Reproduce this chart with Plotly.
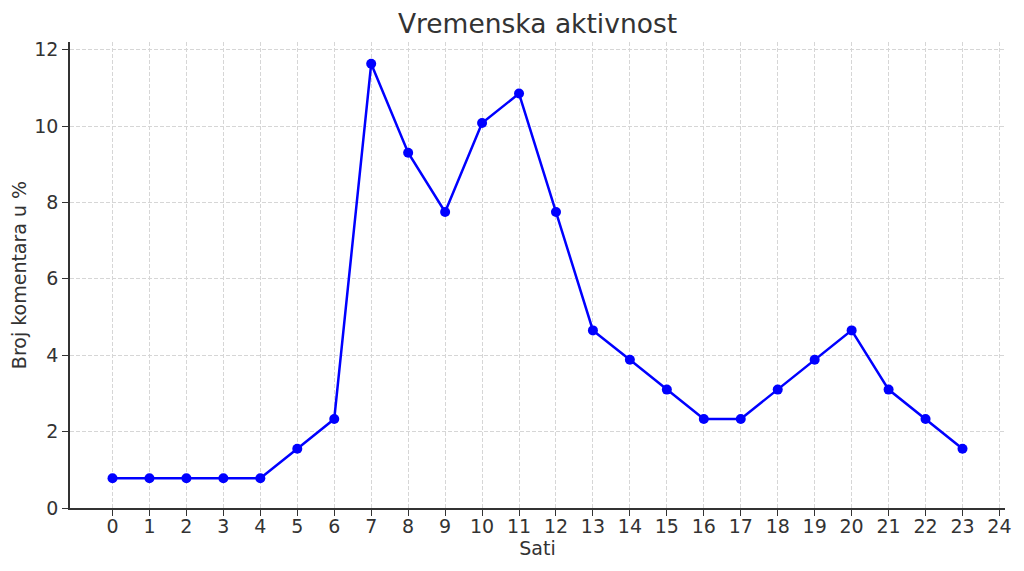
import plotly.graph_objects as go

hours = list(range(24))
percent = [0.78, 0.78, 0.78, 0.78, 0.78, 1.55, 2.33, 11.63, 9.30, 7.75, 10.08, 10.85,
           7.75, 4.65, 3.88, 3.10, 2.33, 2.33, 3.10, 3.88, 4.65, 3.10, 2.33, 1.55]
x_ticks = list(range(25))
y_ticks = [0, 2, 4, 6, 8, 10, 12]

title = "Vremenska aktivnost"
x_title = "Sati"
y_title = "Broj komentara u %"

fig = go.Figure(go.Scatter(
    x=hours, y=percent, mode="lines+markers",
    line=dict(color="#0000ff", width=2.5),
    marker=dict(color="#0000ff", size=10),
))

font = "DejaVu Sans, Arial, sans-serif"
# page body has an 8px margin, so the figure is 8px smaller than the window
fig.update_layout(
    width=1016, height=563,
    margin=dict(l=62, r=19, t=34, b=63),
    paper_bgcolor="white", plot_bgcolor="white",
    title=dict(text=title, x=0.5, xref="paper", xanchor="center",
               y=1 - 16 / 563, yref="container", yanchor="middle",
               font=dict(family=font, size=26.5, color="#333333")),
    font=dict(family=font, size=19, color="#333333"),
    showlegend=False,
)
grid = dict(showgrid=True, gridcolor="#d6d6d6", griddash="4px,2px", gridwidth=1,
            showline=True, linecolor="#333333", linewidth=1.5,
            ticks="outside", ticklen=6, tickcolor="#333333", tickwidth=1.2,
            zeroline=False, tickfont=dict(size=19), automargin=False)
fig.update_xaxes(
    range=[-1.15, 24.15], tickvals=x_ticks, ticktext=[str(t) for t in x_ticks],
    title=dict(text=x_title, font=dict(size=19), standoff=6),
    ticklabelstandoff=-6,
    **grid,
)
fig.update_yaxes(
    range=[0, 12.2], tickvals=y_ticks,
    title=dict(text=y_title, font=dict(size=19), standoff=10),
    **grid,
)
fig.write_html("out.html")
